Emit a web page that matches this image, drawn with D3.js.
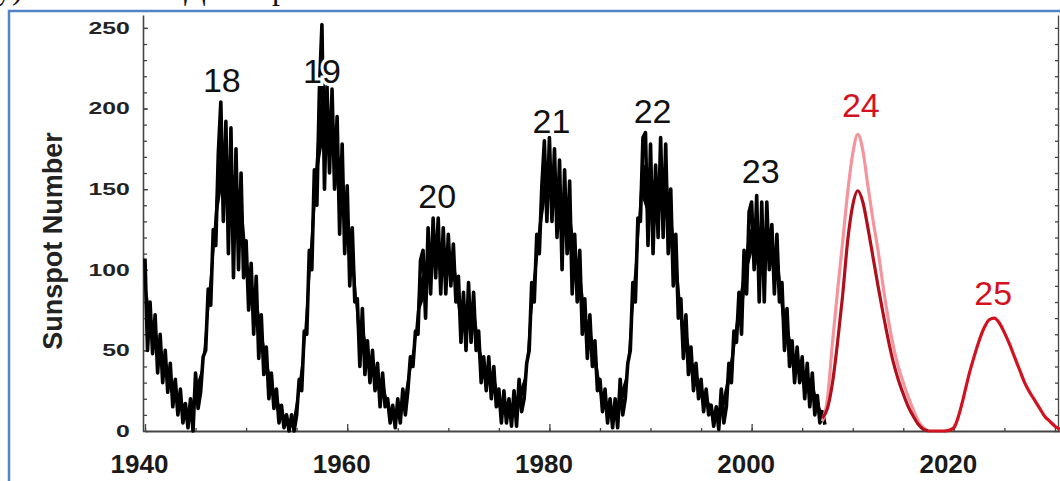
<!DOCTYPE html>
<html>
<head>
<meta charset="utf-8">
<script src="https://cdn.jsdelivr.net/npm/d3@7"></script>
<style>
  body { margin: 0; background: #fff; }
  svg { display: block; }
  text { font-family: "Liberation Sans", Arial, sans-serif; }
</style>
</head>
<body>
<svg width="1060" height="481"></svg>
<script>
// observed monthly sunspot band, half-year bins from 1940.0 to 2007.0 (upper / lower envelope)
const obsStart = 1940;
const obsStep = 0.5;
const obsHigh = [
  107, 80, 72, 60, 50, 42, 32, 26, 17, 20, 36, 46, 88, 125, 172, 204, 192, 188, 175, 160,
  118, 104, 96, 72, 52, 36, 26, 16, 10, 10, 32, 62, 112, 162, 212, 252, 214, 212, 195, 178,
  152, 126, 82, 76, 56, 50, 42, 36, 20, 16, 20, 26, 46, 62, 106, 112, 126, 132, 132, 126,
  122, 116, 96, 86, 92, 86, 62, 46, 46, 40, 26, 25, 20, 25, 32, 42, 92, 122, 152, 180,
  182, 175, 168, 162, 155, 122, 112, 82, 72, 56, 32, 26, 20, 20, 32, 42, 92, 132, 182, 185,
  178, 165, 182, 178, 150, 122, 82, 72, 52, 42, 32, 26, 16, 15, 26, 42, 62, 86, 112, 136,
  142, 146, 142, 142, 128, 122, 92, 76, 56, 52, 46, 42, 36, 22, 12
];
const obsLow = [
  50, 48, 36, 30, 24, 15, 10, 5, 2, 0, 14, 24, 50, 78, 115, 130, 110, 95, 100, 95,
  75, 60, 45, 35, 20, 14, 5, 2, 0, 0, 10, 25, 60, 100, 140, 150, 160, 150, 122, 110,
  90, 80, 40, 35, 30, 25, 15, 15, 5, 2, 5, 10, 25, 40, 60, 70, 85, 95, 85, 85,
  90, 80, 55, 50, 55, 50, 30, 25, 20, 15, 5, 5, 3, 3, 12, 20, 50, 80, 110, 130,
  130, 120, 100, 110, 85, 80, 60, 45, 40, 25, 12, 5, 2, 2, 10, 20, 50, 80, 130, 115,
  110, 120, 120, 110, 90, 70, 45, 35, 25, 20, 12, 10, 3, 1, 5, 15, 30, 55, 60, 85,
  100, 80, 80, 100, 85, 80, 50, 40, 30, 30, 20, 15, 10, 5, 4
];

// predictions
const c24HighYears = [2007, 2007.5, 2008, 2008.5, 2009, 2009.5, 2010, 2010.5, 2011, 2011.5, 2012, 2012.5,
  2013, 2013.5, 2014, 2014.5, 2015, 2015.5, 2016, 2016.5, 2017, 2017.5];
const c24HighValues = [6, 20, 55, 87, 117, 148, 172, 184, 174, 152, 131, 112,
  90, 70, 53, 40, 30, 21, 13, 6, 2, 0];

const c24LowYears = [2007, 2007.5, 2008, 2008.5, 2009, 2009.5, 2010, 2010.5, 2011, 2011.5, 2012, 2012.5,
  2013, 2013.5, 2014, 2014.5, 2015, 2015.5, 2016, 2016.5, 2017, 2017.5];
const c24LowValues = [8, 14, 30, 55, 84, 118, 140, 149, 142, 126, 108, 90,
  73, 57, 43, 32, 23, 15, 9, 4, 1, 0];

const c25Years = [2017.5, 2018, 2018.5, 2019, 2019.5, 2020, 2020.5, 2021, 2021.5, 2022, 2022.5, 2023, 2023.5,
  2024, 2024.5, 2025, 2025.5, 2026, 2026.5, 2027, 2027.5, 2028, 2028.5, 2029, 2029.5, 2030, 2030.5];
const c25Values = [0, 0, 0, 0, 0.5, 2, 10, 22, 35, 46, 56, 64, 69,
  70, 67, 61, 54, 46, 38, 30, 24, 19, 14, 9, 6, 3, 1];

// cycle numbers
const cycleLabels = ["18", "19", "20", "21", "22", "23", "24", "25"];
const cycleLabelYears = [1947.6, 1957.5, 1968.9, 1980.2, 1990.2, 2000.9, 2010.8, 2023.9];
const cycleLabelValues = [210, 216, 138, 185, 191, 154, 195, 78];

const yTicks = [0, 50, 100, 150, 200, 250];
const xTicks = [1940, 1960, 1980, 2000, 2020];

const svg = d3.select("svg");

const x = d3.scaleLinear().domain([1940, 2030.5]).range([145, 1060]);
const y = d3.scaleLinear().domain([0, 258]).range([431, 15]);

// cut-off caption line above the frame
svg.selectAll("text.cap")
  .data([{ t: "у)", x: -4 }, { t: "Д", x: 184 }, { t: "р", x: 272 }])
  .enter().append("text")
  .attr("class", "cap")
  .attr("x", d => d.x)
  .attr("y", -1)
  .style("font-family", "'Liberation Serif', 'DejaVu Serif', serif")
  .style("font-size", "32px")
  .attr("fill", "#111")
  .text(d => d.t);

// blue frame
svg.append("rect")
  .attr("x", 9).attr("y", 11)
  .attr("width", 1200).attr("height", 600)
  .attr("fill", "none")
  .attr("stroke", "#5283c4")
  .attr("stroke-width", 2.5);

// left axis: minor ticks then labelled ticks
const gy = svg.append("g").attr("transform", "translate(143,0)");
gy.call(d3.axisLeft(y).tickValues(d3.range(0, 251, 10)).tickSize(-4).tickSizeOuter(0).tickFormat(""));
const gyMajor = svg.append("g").attr("transform", "translate(143,0)");
gyMajor.call(d3.axisLeft(y).tickValues(yTicks).tickSize(-5).tickPadding(8.5).tickSizeOuter(0));
gyMajor.select(".domain").remove();
gyMajor.selectAll("text")
  .attr("transform", "scale(1.55,1)")
  .attr("dy", "0.34em")
  .style("font-size", "16px")
  .style("font-weight", "bold")
  .attr("fill", "#222");

// right axis
const gr = svg.append("g").attr("transform", "translate(1058,0)");
gr.call(d3.axisRight(y).tickValues(d3.range(0, 251, 10)).tickSize(-3).tickSizeOuter(0).tickFormat(""));

// bottom axis
const gx = svg.append("g").attr("transform", `translate(0,${y(0)})`);
gx.call(d3.axisBottom(x).tickValues(d3.range(1940, 2031, 5)).tickSize(-3).tickSizeOuter(0).tickFormat(""));
const gxMajor = svg.append("g").attr("transform", `translate(0,${y(0)})`);
gxMajor.call(d3.axisBottom(x).tickValues(xTicks).tickSize(-7).tickPadding(24).tickFormat(d3.format("d")));
gxMajor.select(".domain").remove();
gxMajor.selectAll("text")
  .attr("dx", -6)
  .style("font-size", "26px")
  .style("font-weight", "bold")
  .attr("fill", "#1a1a1a");

svg.selectAll(".domain, .tick line").attr("stroke", "#444").attr("stroke-width", 1.3);
gx.select(".domain").attr("stroke-width", 2);
gy.select(".domain").attr("stroke-width", 1.6);

// y axis title
svg.append("text")
  .attr("transform", "translate(62,241) rotate(-90)")
  .attr("text-anchor", "middle")
  .style("font-size", "27px")
  .style("font-weight", "bold")
  .attr("fill", "#222")
  .text("Sunspot Number");

// observed record
const band = obsHigh.map((h, i) => ({ t: obsStart + i * obsStep, hi: h, lo: obsLow[i] }));
const mid = d => (d.hi + d.lo) / 2;

// solid core of the band (inner part between the envelopes)
svg.append("path")
  .datum(band)
  .attr("fill", "#000")
  .attr("d", d3.area()
    .x(d => x(d.t + obsStep / 4))
    .y0(d => y(d.lo + 0.3 * (d.hi - d.lo)))
    .y1(d => y(d.hi - 0.3 * (d.hi - d.lo))));

// jagged line through the envelopes; on rising stretches low comes first so the line climbs
const obsPts = [];
band.forEach((d, i) => {
  const prev = band[Math.max(0, i - 1)], next = band[Math.min(band.length - 1, i + 1)];
  const rising = mid(next) - mid(prev) > 25;
  const first = rising ? d.lo : d.hi, second = rising ? d.hi : d.lo;
  obsPts.push([d.t, first]);
  obsPts.push([d.t + obsStep / 2, second]);
});
svg.append("path")
  .datum(obsPts)
  .attr("fill", "none")
  .attr("stroke", "#000")
  .attr("stroke-width", 3.6)
  .attr("stroke-linejoin", "round")
  .attr("d", d3.line().x(d => x(d[0])).y(d => y(d[1])));

// prediction curves
const smooth = d3.line().curve(d3.curveMonotoneX).x(d => x(d[0])).y(d => y(d[1]));
const zip = (a, b) => a.map((v, i) => [v, b[i]]);

svg.append("path")
  .datum(zip(c24HighYears, c24HighValues))
  .attr("fill", "none").attr("stroke", "#f4959e").attr("stroke-width", 3.2)
  .attr("d", smooth);
svg.append("path")
  .datum(zip(c24LowYears, c24LowValues))
  .attr("fill", "none").attr("stroke", "#b0101c").attr("stroke-width", 3.2)
  .attr("d", smooth);
svg.append("path")
  .datum(zip(c25Years, c25Values))
  .attr("fill", "none").attr("stroke", "#d3121f").attr("stroke-width", 3.2)
  .attr("d", smooth);

// cycle numbers, with a white halo like the original
svg.selectAll("text.cycle")
  .data(cycleLabels)
  .enter().append("text")
  .attr("class", "cycle")
  .attr("x", (d, i) => x(cycleLabelYears[i]))
  .attr("y", (d, i) => y(cycleLabelValues[i]))
  .attr("text-anchor", "middle")
  .style("font-size", "34px")
  .style("paint-order", "stroke")
  .attr("stroke", "#fff")
  .attr("stroke-width", 6)
  .attr("fill", d => (d === "24" || d === "25") ? "#d3121f" : "#111")
  .text(d => d);
</script>
</body>
</html>
